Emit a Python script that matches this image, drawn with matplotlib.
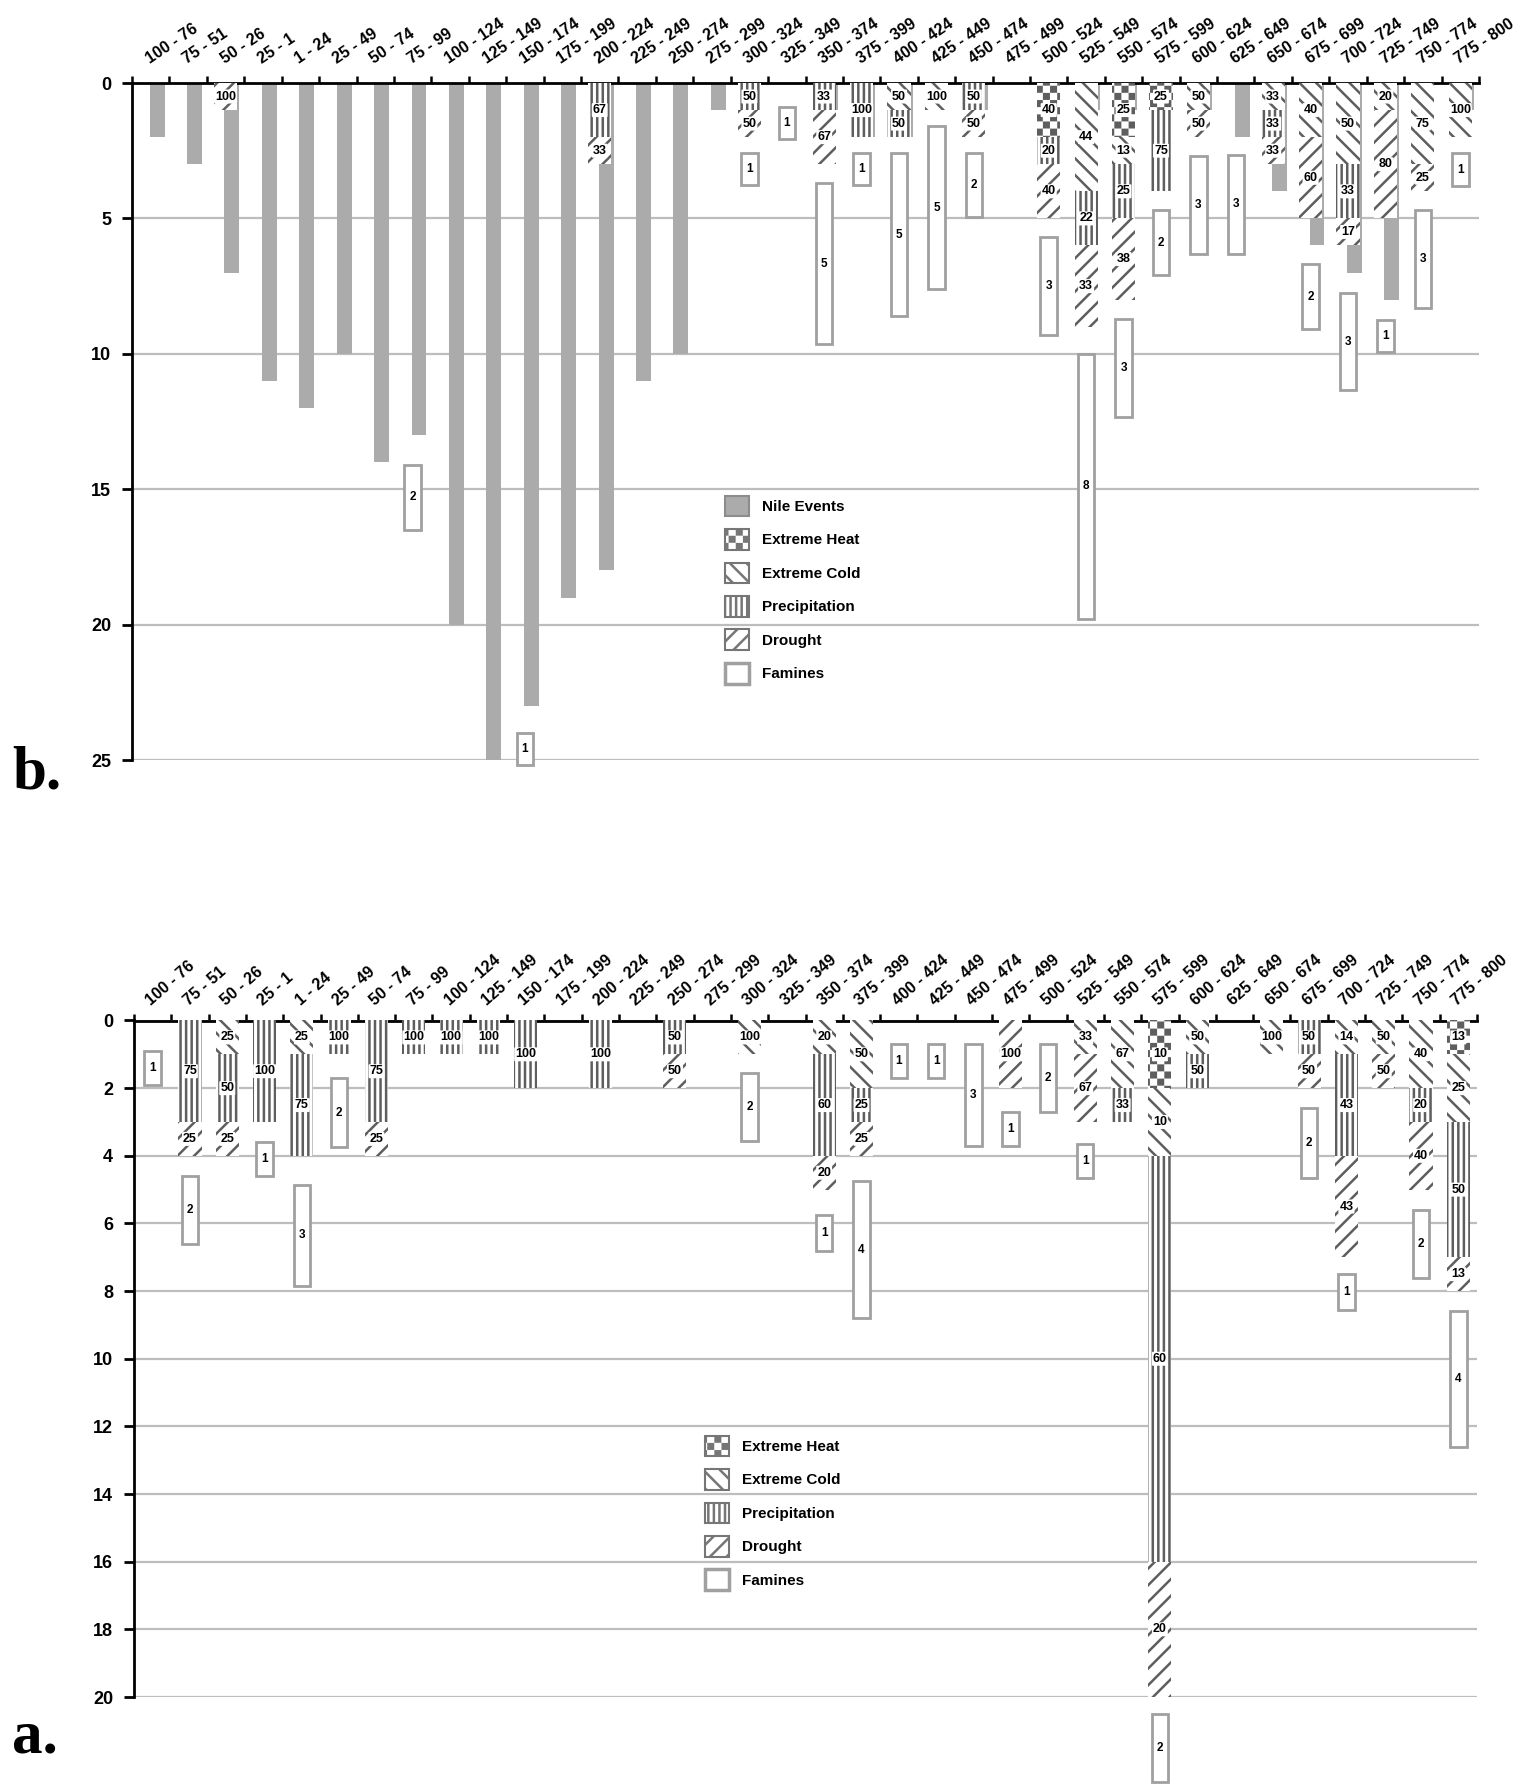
import numpy as np
import matplotlib
matplotlib.use("Agg")
import matplotlib.pyplot as plt
import matplotlib.hatch as mhatch
from matplotlib.path import Path
from matplotlib.patches import Patch

# 25-year periods (BC then AD)
periods = ["100 - 76", "75 - 51", "50 - 26", "25 - 1", "1 - 24", "25 - 49", "50 - 74", "75 - 99",
           "100 - 124", "125 - 149", "150 - 174", "175 - 199", "200 - 224", "225 - 249",
           "250 - 274", "275 - 299", "300 - 324", "325 - 349", "350 - 374", "375 - 399",
           "400 - 424", "425 - 449", "450 - 474", "475 - 499", "500 - 524", "525 - 549",
           "550 - 574", "575 - 599", "600 - 624", "625 - 649", "650 - 674", "675 - 699",
           "700 - 724", "725 - 749", "750 - 774", "775 - 800"]

# panel b: Nile events and climate events
nile_b = [2, 3, 7, 11, 12, 10, 14, 13, 20, 25, 23, 19, 18, 11, 10, 1, 0, 0,
          1, 2, 2, 0, 1, 0, 0, 1, 1, 0, 1, 2, 4, 6, 7, 8, 0, 1]
heat_b = [0, 0, 0, 0, 0, 0, 0, 0, 0, 0, 0, 0, 0, 0, 0, 0, 0, 0,
          0, 0, 0, 0, 0, 0, 2, 0, 2, 1, 0, 0, 0, 0, 0, 0, 0, 0]
cold_b = [0, 0, 0, 0, 0, 0, 0, 0, 0, 0, 0, 0, 0, 0, 0, 0, 0, 0,
          0, 0, 1, 1, 0, 0, 0, 4, 1, 0, 1, 0, 1, 2, 3, 1, 3, 2]
precip_b = [0, 0, 0, 0, 0, 0, 0, 0, 0, 0, 0, 0, 2, 0, 0, 0, 1, 0,
            1, 2, 1, 0, 1, 0, 1, 2, 2, 3, 0, 0, 1, 0, 2, 0, 0, 0]
drought_b = [0, 0, 1, 0, 0, 0, 0, 0, 0, 0, 0, 0, 1, 0, 0, 0, 1, 0,
             2, 0, 0, 0, 1, 0, 2, 3, 3, 0, 1, 0, 1, 3, 1, 4, 1, 0]
famine_b_idx = [7, 10, 16, 17, 18, 19, 20, 21, 22, 24, 25, 26, 27, 28, 29, 31, 32, 33, 34, 35]
famine_b_n = [2, 1, 1, 1, 5, 1, 5, 5, 2, 3, 8, 3, 2, 3, 3, 2, 3, 1, 3, 1]
famine_b_lo = [14.1, 24.0, 2.6, 0.9, 3.7, 2.6, 2.6, 1.6, 2.6, 5.7, 10.0, 8.7, 4.7, 2.7,
               2.65, 6.7, 7.75, 8.75, 4.7, 2.6]
famine_b_hi = [16.5, 25.2, 3.75, 2.05, 9.65, 3.75, 8.6, 7.6, 4.95, 9.3, 19.8, 12.35, 7.1,
               6.3, 6.3, 9.1, 11.35, 9.95, 8.3, 3.8]

# panel a: climate events only
heat_a = [0, 0, 0, 0, 0, 0, 0, 0, 0, 0, 0, 0, 0, 0, 0, 0, 0, 0,
          0, 0, 0, 0, 0, 0, 0, 0, 0, 2, 0, 0, 0, 0, 0, 0, 0, 1]
cold_a = [0, 0, 1, 0, 1, 0, 0, 0, 0, 0, 0, 0, 0, 0, 0, 0, 1, 0,
          1, 2, 0, 0, 0, 0, 0, 1, 2, 2, 1, 0, 1, 0, 1, 1, 2, 2]
precip_a = [0, 3, 2, 3, 3, 1, 3, 1, 1, 1, 2, 0, 2, 0, 1, 0, 0, 0,
            3, 1, 0, 0, 0, 0, 0, 0, 1, 12, 1, 0, 0, 1, 3, 0, 1, 4]
drought_a = [0, 1, 1, 0, 0, 0, 1, 0, 0, 0, 0, 0, 0, 0, 1, 0, 0, 0,
             1, 1, 0, 0, 0, 2, 0, 2, 0, 4, 0, 0, 0, 1, 3, 1, 2, 1]
famine_a_idx = [0, 1, 3, 4, 5, 16, 18, 19, 20, 21, 22, 23, 24, 25, 27, 31, 32, 34, 35]
famine_a_n = [1, 2, 1, 3, 2, 2, 1, 4, 1, 1, 3, 1, 2, 1, 2, 2, 1, 2, 4]
famine_a_lo = [0.9, 4.6, 3.6, 4.85, 1.7, 1.55, 5.75, 4.75, 0.7, 0.7, 0.7, 2.7, 0.7, 3.65,
               20.5, 2.6, 7.5, 5.6, 8.6]
famine_a_hi = [1.9, 6.6, 4.6, 7.85, 3.75, 3.55, 6.8, 8.8, 1.7, 1.7, 3.7, 3.7, 2.7, 4.65,
               22.5, 4.65, 8.55, 7.6, 12.6]

climate_names = ["Extreme Heat", "Extreme Cold", "Precipitation", "Drought"]
HATCHES = ["O", "\\\\", "|||", "//"]
GRAY = "#ababab"
HATCH_C = "#5e5e5e"
FAM_EDGE = "#a0a0a0"
FONT = "Liberation Sans"


# checkerboard hatch for extreme heat (takes over the 'O' hatch letter)
class CheckerHatch(mhatch.HatchPatternBase):
    def __init__(self, hatch, density):
        self.cells = 14 * hatch.count("O")
        self.num_vertices = (self.cells * self.cells // 2) * 5

    def set_vertices_and_codes(self, vertices, codes):
        s = 1.0 / self.cells
        g = 0.013
        sq = np.array([[g, g], [s - g, g], [s - g, s - g], [g, s - g], [g, g]])
        parts = [sq + (i * s, j * s) for i in range(self.cells)
                 for j in range(self.cells) if (i + j) % 2 == 0]
        vertices[:] = np.concatenate(parts)
        codes[:] = np.tile([Path.MOVETO, Path.LINETO, Path.LINETO, Path.LINETO,
                            Path.CLOSEPOLY], len(parts))


mhatch._hatch_types = [t for t in mhatch._hatch_types if t is not mhatch.LargeCircles] + [CheckerHatch]
plt.rcParams["hatch.linewidth"] = 1.8
plt.rcParams["font.family"] = [FONT, "DejaVu Sans"]


def draw_panel(ax, stacks, fam_idx, fam_n, fam_lo, fam_hi, ymax, step, label_rot, label_off, nile=None):
    x = np.arange(len(periods))
    if nile is not None:
        ax.bar(x + 0.17, nile, width=0.4, color=GRAY, linewidth=0, zorder=2, clip_on=False)
    stacks = [np.asarray(s, float) for s in stacks]
    total = np.sum(stacks, axis=0)
    bottom = np.zeros(len(x))
    for vals, hatch in zip(stacks, HATCHES):
        ax.bar(x, vals, width=0.62, bottom=bottom, facecolor="white", edgecolor=HATCH_C,
               linewidth=0, hatch=hatch, zorder=3)
        for i in np.nonzero(vals)[0]:
            pct = int(np.floor(100 * vals[i] / total[i] + 0.5))
            ax.text(i, bottom[i] + vals[i] / 2, str(pct), ha="center", va="center",
                    fontsize=9, fontweight="bold", zorder=5,
                    bbox=dict(boxstyle="round,pad=0.08", fc="white", ec="none"))
        bottom += vals

    lo = np.asarray(fam_lo)
    hi = np.asarray(fam_hi)
    ax.bar(fam_idx, hi - lo, bottom=lo, width=0.44, facecolor="white", edgecolor=FAM_EDGE,
           linewidth=2, zorder=4, clip_on=False)
    for i, n, a, b in zip(fam_idx, fam_n, lo, hi):
        ax.text(i, (a + b) / 2, str(n), ha="center", va="center", fontsize=8.5,
                fontweight="bold", zorder=6, clip_on=False)

    ax.set_xlim(-0.5, len(periods) - 0.5)
    ax.set_ylim(ymax, 0)
    ax.set_yticks(np.arange(0, ymax + 1, step))
    ax.set_yticklabels([str(v) for v in range(0, ymax + 1, step)], fontsize=13, fontweight="bold")
    ax.set_xticks(np.arange(-0.5, len(periods), 1))
    ax.xaxis.set_ticks_position("top")
    ax.tick_params(axis="x", labeltop=False, labelbottom=False, direction="out",
                   length=5, width=1.8)
    ax.tick_params(axis="y", direction="out", length=7, width=2, pad=8)
    for side in ["right", "bottom"]:
        ax.spines[side].set_visible(False)
    for side in ["top", "left"]:
        ax.spines[side].set_linewidth(2)
    ax.yaxis.grid(True, color="#bdbdbd", linewidth=1.6)
    ax.set_axisbelow(True)

    for i, lab in enumerate(periods):
        ax.annotate(lab, xy=(i + 0.02, 1), xycoords=("data", "axes fraction"),
                    xytext=(0, label_off), textcoords="offset points", rotation=label_rot,
                    rotation_mode="anchor", ha="left", va="bottom", fontsize=11.5,
                    fontweight="bold", annotation_clip=False)


def legend_handles(with_nile):
    handles = []
    if with_nile:
        handles.append(Patch(facecolor=GRAY, edgecolor="#8c8c8c", linewidth=1.5))
    for h in HATCHES:
        handles.append(Patch(facecolor="white", edgecolor="#767676", hatch=h, linewidth=1.5))
    handles.append(Patch(facecolor="white", edgecolor=FAM_EDGE, linewidth=2.5))
    return handles


W, H = 1516, 1785
fig = plt.figure(figsize=(W / 100, H / 100), dpi=100)

ax_b = fig.add_axes([132 / W, 1 - 760 / H, 1347 / W, 677 / H])
draw_panel(ax_b, [heat_b, cold_b, precip_b, drought_b], famine_b_idx, famine_b_n,
           famine_b_lo, famine_b_hi, 25, 5, 34, 12, nile=nile_b)

ax_a = fig.add_axes([134 / W, 1 - 1697 / H, 1343 / W, 676.5 / H])
draw_panel(ax_a, [heat_a, cold_a, precip_a, drought_a], famine_a_idx, famine_a_n,
           famine_a_lo, famine_a_hi, 20, 2, 41, 9)

leg_kw = dict(frameon=False, loc="upper left", bbox_transform=fig.transFigure,
              prop={"family": FONT, "weight": "bold", "size": 11}, handlelength=1.6,
              handleheight=1.7, labelspacing=0.84, handletextpad=0.85, borderpad=0)
ax_b.legend(legend_handles(True), ["Nile Events"] + climate_names + ["Famines"],
            bbox_to_anchor=(717 / W, 1 - 488 / H), **leg_kw)
ax_a.legend(legend_handles(False), climate_names + ["Famines"],
            bbox_to_anchor=(697 / W, 1 - 1428 / H), **leg_kw)

fig.text(12 / W, 1 - 788 / H, "b.", fontsize=44, fontweight="bold",
         family="Liberation Serif", va="baseline")
fig.text(12 / W, 1 - 1752 / H, "a.", fontsize=44, fontweight="bold",
         family="Liberation Serif", va="baseline")

fig.savefig("out.png", dpi=100, facecolor="white")
